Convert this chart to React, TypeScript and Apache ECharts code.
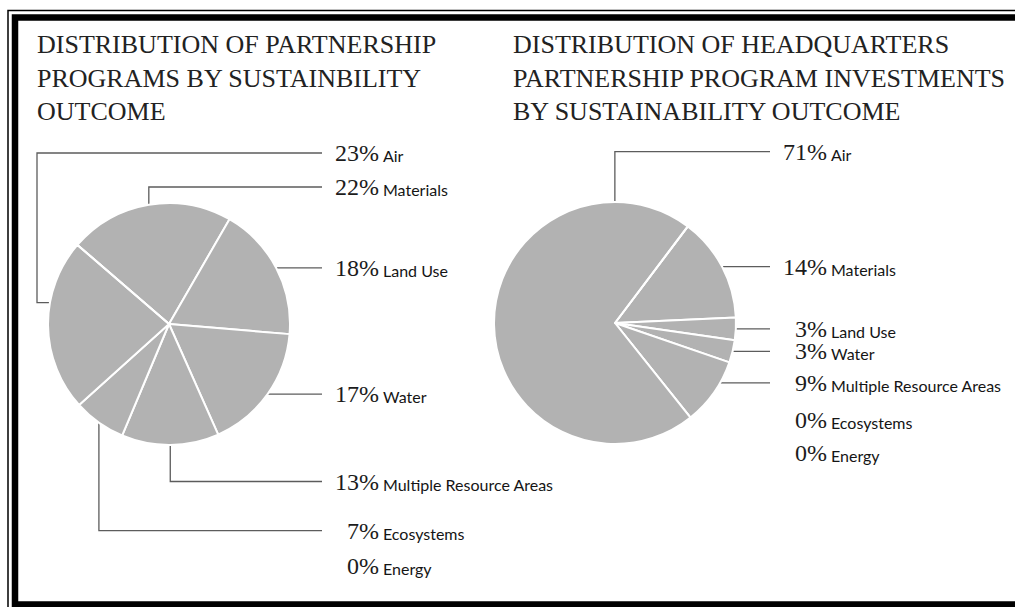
import React, { useEffect, useRef } from "react";
import * as echarts from "echarts";

// Sustainability outcome categories, in the clockwise order the slices are drawn
const categories = [
  "Materials",
  "Land Use",
  "Water",
  "Multiple Resource Areas",
  "Ecosystems",
  "Air",
  "Energy",
];

// Share of partnership programs (%)
const programShares = [22, 18, 17, 13, 7, 23, 0];

// Share of headquarters partnership program investments (%)
const investmentShares = [14, 3, 3, 9, 0, 71, 0];

const titles = [
  "DISTRIBUTION OF PARTNERSHIP\nPROGRAMS BY SUSTAINBILITY\nOUTCOME",
  "DISTRIBUTION OF HEADQUARTERS\nPARTNERSHIP PROGRAM INVESTMENTS\nBY SUSTAINABILITY OUTCOME",
];

// ---- layout (positions and styles only) ----
type Route = {
  kind: "straight" | "elbow" | "wrap" | "free";
  at?: number; // where along the slice the leader starts (0..1)
  y?: number; // label row for bent / free labels
  kinkX?: number;
};

const NUM_FONT = '"Liberation Serif", "Times New Roman", serif';
const NAME_FONT = 'Lato, "Open Sans", sans-serif';
const NUM_SIZE = 24;
const INK = "#1c1c1c";

const PIES = [
  {
    values: programShares,
    title: titles[0],
    titleLeft: 32,
    cx: 169,
    cy: 324,
    r: 121,
    start: 310.8, // degrees clockwise from 12 o'clock
    lineEnd: 322,
    routes: [
      { kind: "elbow", y: 187 },
      { kind: "straight" },
      { kind: "straight" },
      { kind: "elbow", y: 481.5 },
      { kind: "elbow", y: 530.7 },
      { kind: "wrap", at: 0.63, kinkX: 37, y: 153 },
      { kind: "free", y: 566 },
    ] as Route[],
  },
  {
    values: investmentShares,
    title: titles[1],
    titleLeft: 508,
    cx: 615,
    cy: 323,
    r: 121,
    start: 37,
    lineEnd: 770,
    routes: [
      { kind: "straight" },
      { kind: "straight" },
      { kind: "straight" },
      { kind: "straight", at: 0.33 },
      { kind: "free", y: 420 },
      { kind: "elbow", at: 0.855, y: 151.7 },
      { kind: "free", y: 453 },
    ] as Route[],
  },
];

function sliceAngles(values: number[], start: number): [number, number][] {
  const sum = values.reduce((a, b) => a + b, 0);
  let acc = start;
  return values.map((v) => {
    const a0 = acc;
    acc += (v / sum) * 360;
    return [a0, acc];
  });
}

function polar(cx: number, cy: number, r: number, deg: number): [number, number] {
  const t = (deg * Math.PI) / 180;
  return [cx + r * Math.sin(t), cy - r * Math.cos(t)];
}

export default function App() {
  const ref = useRef<HTMLDivElement>(null);

  useEffect(() => {
    document.body.style.margin = "0";
    if (!ref.current) return;
    const chart = echarts.init(ref.current, undefined, { renderer: "svg" });

    const ctx = document.createElement("canvas").getContext("2d");
    const numWidth = (s: string) => {
      if (!ctx) return s.length * NUM_SIZE * 0.5;
      ctx.font = `${NUM_SIZE}px ${NUM_FONT}`;
      return ctx.measureText(s).width;
    };

    const series = PIES.map((p) => {
      const angles = sliceAngles(p.values, p.start);
      return {
        type: "pie",
        silent: true,
        center: [p.cx, p.cy],
        radius: p.r,
        startAngle: (((90 - p.start) % 360) + 360) % 360,
        clockwise: true,
        avoidLabelOverlap: false,
        itemStyle: { color: "#b2b2b2", borderColor: "#ffffff", borderWidth: 2 },
        label: {
          show: true,
          position: "outside",
          formatter: (d: any) => `{num|${d.value}}{pct|%}{name|${d.name}}`,
          rich: {
            num: { fontFamily: NUM_FONT, fontSize: NUM_SIZE, lineHeight: 19, color: INK },
            pct: { fontFamily: NUM_FONT, fontSize: NUM_SIZE, lineHeight: 19, color: INK },
            name: {
              fontFamily: NAME_FONT,
              fontSize: 16,
              lineHeight: 14,
              color: "#151515",
              padding: [5, 0, 0, 4],
            },
          },
        },
        labelLine: {
          show: true,
          smooth: false,
          lineStyle: { color: "#5c5c5c", width: 1.3 },
        },
        labelLayout: (params: any) => {
          const i = params.dataIndex;
          const [a0, a1] = angles[i];
          const route = p.routes[i];
          const [ax, ay] = polar(p.cx, p.cy, p.r, a0 + (a1 - a0) * (route.at ?? 0.5));
          let y = route.y ?? ay;
          let pts: number[][] | undefined;
          if (route.kind === "straight") {
            y = ay;
            pts = [[ax, ay], [p.lineEnd, ay]];
          } else if (route.kind === "elbow") {
            pts = [[ax, ay], [ax, y], [p.lineEnd, y]];
          } else if (route.kind === "wrap") {
            const kx = route.kinkX as number;
            pts = [[ax, ay], [kx, ay], [kx, y], [p.lineEnd, y]];
          }
          const out: any = {
            x: p.lineEnd + 37 - numWidth(String(p.values[i])),
            y,
            align: "left",
            verticalAlign: "middle",
          };
          if (pts) out.labelLinePoints = pts;
          return out;
        },
        data: categories.map((name, i) => ({
          name,
          value: p.values[i],
          labelLine: { show: p.values[i] > 0 },
        })),
      };
    });

    chart.setOption({
      animation: false,
      backgroundColor: "#ffffff",
      title: PIES.map((p) => ({
        text: p.title,
        left: p.titleLeft,
        top: 23,
        textStyle: {
          fontFamily: NUM_FONT,
          fontSize: 26,
          fontWeight: "normal",
          lineHeight: 33.5,
          color: "#222",
        },
      })),
      graphic: [
        {
          type: "rect",
          silent: true,
          shape: { x: 8, y: 10.5, width: 1100, height: 700 },
          style: { fill: "none", stroke: "#000", lineWidth: 1.5 },
        },
        {
          type: "rect",
          silent: true,
          shape: { x: 15, y: 17.5, width: 1100, height: 587 },
          style: { fill: "none", stroke: "#000", lineWidth: 6.5 },
        },
      ],
      series,
    });

    return () => chart.dispose();
  }, []);

  return <div ref={ref} style={{ width: 1015, height: 607, background: "#fff" }} />;
}
